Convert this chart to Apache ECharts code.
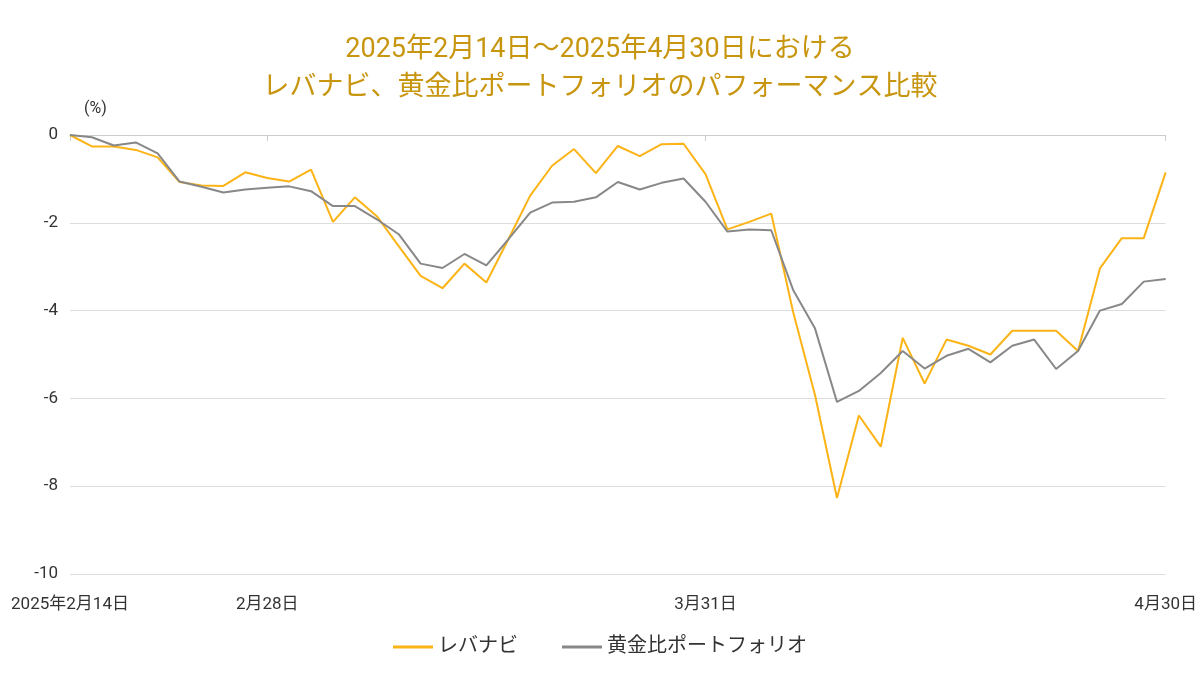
<!DOCTYPE html>
<html><head><meta charset="utf-8">
<script src="https://cdn.jsdelivr.net/npm/echarts@6/dist/echarts.min.js"></script>
<style>html,body{margin:0;padding:0;background:#fff}#c{width:1200px;height:680px}</style>
</head><body><div id="c"></div>
<script>
const dates = ["2025年2月14日","2月17日","2月18日","2月19日","2月20日","2月21日","2月25日","2月26日","2月27日","2月28日",
"3月3日","3月4日","3月5日","3月6日","3月7日","3月10日","3月11日","3月12日","3月13日","3月14日","3月17日","3月18日","3月19日","3月21日","3月24日","3月25日","3月26日","3月27日","3月28日","3月31日",
"4月1日","4月2日","4月3日","4月4日","4月7日","4月8日","4月9日","4月10日","4月11日","4月14日","4月15日","4月16日","4月17日","4月18日","4月21日","4月22日","4月23日","4月24日","4月25日","4月28日","4月30日"];
const shownLabels = [0, 9, 29, 50];
const levanabi = [0,-0.26,-0.26,-0.34,-0.51,-1.07,-1.15,-1.16,-0.85,-0.98,-1.06,-0.79,-1.98,-1.42,-1.85,-2.53,-3.21,-3.49,-2.93,-3.36,-2.38,-1.38,-0.70,-0.32,-0.87,-0.25,
-0.48,-0.21,-0.20,-0.89,-2.15,-1.98,-1.79,-4.03,-5.93,-8.27,-6.39,-7.1,-4.62,-5.66,-4.66,-4.8,-5.0,-4.46,-4.46,-4.46,-4.92,-3.04,-2.35,-2.35,-0.85];
const gold = [0,-0.05,-0.24,-0.17,-0.42,-1.06,-1.18,-1.31,-1.24,-1.2,-1.17,-1.28,-1.62,-1.62,-1.92,-2.26,-2.93,-3.03,-2.71,-2.97,-2.38,-1.77,-1.54,-1.52,-1.42,-1.07,
-1.24,-1.09,-0.99,-1.52,-2.2,-2.15,-2.17,-3.53,-4.41,-6.08,-5.83,-5.42,-4.92,-5.32,-5.03,-4.87,-5.18,-4.8,-4.66,-5.33,-4.92,-4.0,-3.85,-3.34,-3.28];
const F = 'Roboto, "Noto Sans CJK JP", sans-serif';
const chart = echarts.init(document.getElementById('c'));
chart.setOption({
  animation:false,
  textStyle:{fontFamily:F},
  title:{text:'2025年2月14日～2025年4月30日における\nレバナビ、黄金比ポートフォリオのパフォーマンス比較',left:'center',top:26,
    textStyle:{color:'#c8950f',fontSize:27,fontWeight:'normal',lineHeight:38,fontFamily:F}},
  legend:{bottom:18,itemGap:44,icon:'rect',itemWidth:40,itemHeight:3,
    textStyle:{fontSize:20,color:'#333',fontFamily:F},
    data:['レバナビ','黄金比ポートフォリオ']},
  grid:{left:70,right:30,top:135,bottom:106},
  xAxis:{type:'category',data:dates,boundaryGap:false,
    axisLine:{lineStyle:{color:'#ccc'}},splitLine:{show:false},
    axisTick:{show:true,length:6,interval:(i)=>shownLabels.includes(i),lineStyle:{color:'#ccc'}},
    axisLabel:{interval:(i)=>shownLabels.includes(i),color:'#333',fontSize:17,margin:22,fontFamily:F}},
  yAxis:{type:'value',min:-10,max:0,interval:2,name:'(%)',nameGap:18,
    nameTextStyle:{color:'#333',fontSize:16,align:'left',padding:[0,0,0,14]},
    axisLabel:{color:'#333',fontSize:17,margin:12},
    splitLine:{lineStyle:{color:'#ddd'}},axisLine:{show:false},axisTick:{show:false}},
  series:[
    {name:'レバナビ',type:'line',data:levanabi,showSymbol:false,lineStyle:{width:2,color:'#fcb316'},itemStyle:{color:'#fcb316'}},
    {name:'黄金比ポートフォリオ',type:'line',data:gold,showSymbol:false,lineStyle:{width:2,color:'#888888'},itemStyle:{color:'#888888'}}
  ]
});
</script></body></html>
